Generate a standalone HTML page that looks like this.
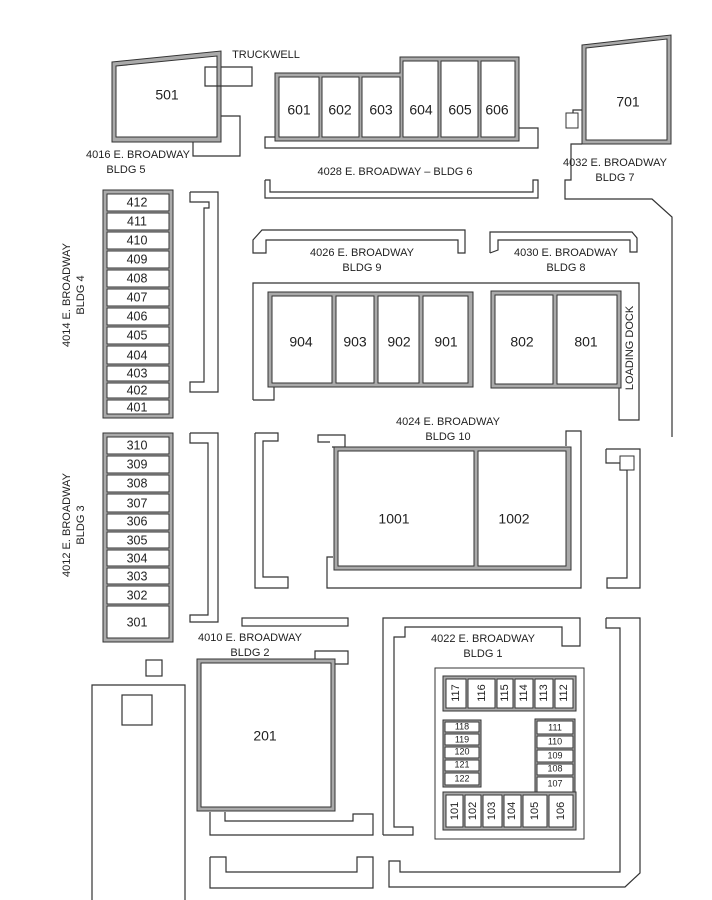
<!DOCTYPE html>
<html><head><meta charset="utf-8"><style>
html,body{margin:0;padding:0;background:#fff}
svg{display:block}
text{font-family:"Liberation Sans",sans-serif;fill:#222}
.l{font-size:11px;text-anchor:middle}
.u{font-size:14px;text-anchor:middle;dominant-baseline:middle}
.s{font-size:12.5px;text-anchor:middle;dominant-baseline:middle}
.t{font-size:9px;text-anchor:middle;dominant-baseline:middle}
.g{fill:#aaa;stroke:#333;stroke-width:1}
.w{fill:#fff;stroke:#333;stroke-width:1}
.o{fill:none;stroke:#333;stroke-width:1.2}
</style></head><body>
<svg width="712" height="900" viewBox="0 0 712 900" xmlns="http://www.w3.org/2000/svg">
<!-- BLDG 5 -->
<polygon class="g" points="112,62 221,51 221,142 112,142"/>
<polygon class="w" points="116,66 217,56 217,137 116,137"/>
<text class="u" x="167" y="96">501</text>
<polyline class="o" points="221,67 252,67 252,86 205,86 205,67 217,67"/>
<polyline class="o" points="221,116 240,116 240,156 193,156 193,142"/>
<text class="l" x="138" y="158">4016  E. BROADWAY</text>
<text class="l" x="126" y="173">BLDG 5</text>
<text class="l" x="266" y="58">TRUCKWELL</text>
<!-- BLDG 6 -->
<polygon class="g" points="275,73 400,73 400,57 519,57 519,141 275,141"/>
<rect class="w" x="279" y="77" width="40" height="60"/>
<rect class="w" x="322" y="77" width="37" height="60"/>
<rect class="w" x="362" y="77" width="38" height="60"/>
<rect class="w" x="403" y="61" width="35" height="76"/>
<rect class="w" x="441" y="61" width="37" height="76"/>
<rect class="w" x="481" y="61" width="34" height="76"/>
<text class="u" x="299" y="111">601</text><text class="u" x="340" y="111">602</text><text class="u" x="381" y="111">603</text>
<text class="u" x="421" y="111">604</text><text class="u" x="460" y="111">605</text><text class="u" x="497" y="111">606</text>
<polyline class="o" points="275,137 265,137 265,148 538,148 538,128 519,128"/>
<polyline class="o" points="265,180 270,180 270,192 533,192 533,180 538,180 538,198 265,198 265,180"/>
<text class="l" x="395" y="175">4028 E. BROADWAY – BLDG 6</text>
<!-- BLDG 7 -->
<polygon class="g" points="582,45 671,35 671,144 582,144"/>
<polygon class="w" points="586,48 667,39 667,140 586,140"/>
<text class="u" x="628" y="103">701</text>
<rect class="w" x="566" y="113" width="12" height="15"/>
<polyline class="o" points="582,110 573,110 573,113"/>
<polyline class="o" points="582,144 571,144 571,180 565,180 565,199 652,199 672,217 672,437"/>
<text class="l" x="615" y="166">4032  E. BROADWAY</text>
<text class="l" x="615" y="181">BLDG 7</text>
<!-- BLDG 4 -->
<rect class="g" x="103" y="190" width="70" height="228"/>
<rect class="w" x="107" y="194" width="62" height="17"/>
<rect class="w" x="107" y="213" width="62" height="17"/>
<rect class="w" x="107" y="232" width="62" height="17"/>
<rect class="w" x="107" y="251" width="62" height="17"/>
<rect class="w" x="107" y="270" width="62" height="17"/>
<rect class="w" x="107" y="289" width="62" height="17"/>
<rect class="w" x="107" y="308" width="62" height="17"/>
<rect class="w" x="107" y="327" width="62" height="17"/>
<rect class="w" x="107" y="346" width="62" height="18"/>
<rect class="w" x="107" y="366" width="62" height="15"/>
<rect class="w" x="107" y="383" width="62" height="15"/>
<rect class="w" x="107" y="400" width="62" height="14"/>
<text class="s" x="137" y="203">412</text><text class="s" x="137" y="222">411</text><text class="s" x="137" y="241">410</text>
<text class="s" x="137" y="260">409</text><text class="s" x="137" y="279">408</text><text class="s" x="137" y="298">407</text>
<text class="s" x="137" y="317">406</text><text class="s" x="137" y="336">405</text><text class="s" x="137" y="356">404</text>
<text class="s" x="137" y="374">403</text><text class="s" x="137" y="391">402</text><text class="s" x="137" y="408">401</text>
<text class="l" transform="translate(70,295) rotate(-90)">4014  E. BROADWAY</text>
<text class="l" transform="translate(84,295) rotate(-90)">BLDG 4</text>
<polyline class="o" points="190,192 218,192 218,392 190,392 190,382 204,382 204,208 209,208 209,202 190,202 190,192"/>
<!-- BLDG 3 -->
<rect class="g" x="103" y="433" width="70" height="209"/>
<rect class="w" x="107" y="437" width="62" height="17"/>
<rect class="w" x="107" y="456" width="62" height="17"/>
<rect class="w" x="107" y="475" width="62" height="17"/>
<rect class="w" x="107" y="494" width="62" height="18"/>
<rect class="w" x="107" y="514" width="62" height="16"/>
<rect class="w" x="107" y="532" width="62" height="16"/>
<rect class="w" x="107" y="550" width="62" height="16"/>
<rect class="w" x="107" y="568" width="62" height="16"/>
<rect class="w" x="107" y="586" width="62" height="18"/>
<rect class="w" x="107" y="606" width="62" height="32"/>
<text class="s" x="137" y="446">310</text><text class="s" x="137" y="465">309</text><text class="s" x="137" y="484">308</text>
<text class="s" x="137" y="504">307</text><text class="s" x="137" y="522">306</text><text class="s" x="137" y="541">305</text>
<text class="s" x="137" y="559">304</text><text class="s" x="137" y="577">303</text><text class="s" x="137" y="596">302</text>
<text class="s" x="137" y="623">301</text>
<text class="l" transform="translate(70,525) rotate(-90)">4012  E. BROADWAY</text>
<text class="l" transform="translate(84,525) rotate(-90)">BLDG 3</text>
<polyline class="o" points="190,433 218,433 218,622 190,622 190,615 208,615 208,443 190,443 190,433"/>
<!-- BLDG 9 / 8 -->
<polyline class="o" points="253,247 253,240 262,230 465,230 465,253 458,253 458,240 266,240 266,253 253,253 253,247"/>
<text class="l" x="362" y="256">4026  E. BROADWAY</text>
<text class="l" x="362" y="271">BLDG 9</text>
<polyline class="o" points="490,253 490,232 632,232 637,238 637,252 630,252 630,240 498,240 498,250 490,253"/>
<text class="l" x="566" y="256">4030  E. BROADWAY</text>
<text class="l" x="566" y="271">BLDG 8</text>
<polyline class="o" points="253,400 253,283 639,283 639,420 619,420 619,387"/>
<polyline class="o" points="253,400 274,400 274,387"/>
<rect class="g" x="268" y="292" width="205" height="95"/>
<rect class="w" x="272" y="296" width="60" height="87"/>
<rect class="w" x="336" y="296" width="38" height="87"/>
<rect class="w" x="378" y="296" width="41" height="87"/>
<rect class="w" x="423" y="296" width="45" height="87"/>
<text class="u" x="301" y="343">904</text><text class="u" x="355" y="343">903</text><text class="u" x="399" y="343">902</text><text class="u" x="446" y="343">901</text>
<rect class="g" x="491" y="291" width="130" height="97"/>
<rect class="w" x="495" y="295" width="58" height="89"/>
<rect class="w" x="557" y="295" width="60" height="89"/>
<text class="u" x="522" y="343">802</text><text class="u" x="586" y="343">801</text>
<text class="l" transform="translate(633,348) rotate(-90)">LOADING DOCK</text>
<!-- BLDG 10 -->
<text class="l" x="448" y="425">4024  E. BROADWAY</text>
<text class="l" x="448" y="440">BLDG 10</text>
<polyline class="o" points="255,433 278,433 278,441 263,441 263,577 288,577 288,588 255,588 255,433"/>
<polyline class="o" points="332,447 345,447 345,435 318,435 318,442 330,442"/>
<polyline class="o" points="566,446 566,431 581,431 581,588 327,588 327,557 333,557"/>
<rect class="g" x="334" y="447" width="237" height="123"/>
<rect class="w" x="338" y="451" width="136" height="115"/>
<rect class="w" x="478" y="451" width="88" height="115"/>
<text class="u" x="394" y="520">1001</text><text class="u" x="514" y="520">1002</text>
<polyline class="o" points="606,449 640,449 640,588 607,588 607,578 627,578 627,470 620,470 620,463 606,463 606,449"/>
<rect class="w" x="620" y="456" width="14" height="14"/>
<!-- BLDG 2 -->
<rect class="o" x="242" y="618" width="106" height="8"/>
<text class="l" x="250" y="641">4010  E. BROADWAY</text>
<text class="l" x="250" y="656">BLDG 2</text>
<polyline class="o" points="315,661 315,651 348,651 348,664 334,664"/>
<rect class="g" x="197" y="659" width="138" height="152"/>
<rect class="w" x="201" y="663" width="130" height="144"/>
<text class="u" x="265" y="737">201</text>
<polyline class="o" points="210,812 210,835 373,835 373,814 353,814 353,821 225,821 225,812"/>
<polyline class="o" points="210,857 226,857 226,872 357,872 357,857 373,857 373,888 210,888 210,857"/>
<rect class="o" x="146" y="660" width="16" height="16"/>
<polyline class="o" points="92,900 92,685 185,685 185,900"/>
<rect class="o" x="122" y="695" width="30" height="30"/>
<!-- BLDG 1 -->
<polyline class="o" points="383,835 383,618 580,618 580,646 562,646 562,627 405,627 405,637 394,637 394,827 413,827 413,835 383,835"/>
<polyline class="o" points="606,618 640,618 640,873 625,887 389,887 389,861 400,861 400,872 620,872 620,628 606,628 606,618"/>
<text class="l" x="483" y="642">4022  E. BROADWAY</text>
<text class="l" x="483" y="657">BLDG 1</text>
<rect class="w" x="435" y="668" width="149" height="171"/>
<rect class="g" x="443" y="676" width="133" height="35"/>
<rect class="w" x="446" y="679" width="20" height="29"/><rect class="w" x="468" y="679" width="27" height="29"/>
<rect class="w" x="497" y="679" width="16" height="29"/><rect class="w" x="515" y="679" width="18" height="29"/>
<rect class="w" x="535" y="679" width="18" height="29"/><rect class="w" x="555" y="679" width="18" height="29"/>
<text class="t" style="font-size:11px" transform="translate(456,693) rotate(-90)">117</text>
<text class="t" style="font-size:11px" transform="translate(482,693) rotate(-90)">116</text>
<text class="t" style="font-size:11px" transform="translate(505,693) rotate(-90)">115</text>
<text class="t" style="font-size:11px" transform="translate(524,693) rotate(-90)">114</text>
<text class="t" style="font-size:11px" transform="translate(544,693) rotate(-90)">113</text>
<text class="t" style="font-size:11px" transform="translate(564,693) rotate(-90)">112</text>
<rect class="g" x="443" y="720" width="38" height="67"/>
<rect class="w" x="445" y="722" width="34" height="10"/><rect class="w" x="445" y="734" width="34" height="11"/>
<rect class="w" x="445" y="747" width="34" height="11"/><rect class="w" x="445" y="760" width="34" height="11"/>
<rect class="w" x="445" y="773" width="34" height="12"/>
<text class="t" x="462" y="727">118</text><text class="t" x="462" y="740">119</text><text class="t" x="462" y="752">120</text>
<text class="t" x="462" y="765">121</text><text class="t" x="462" y="779">122</text>
<rect class="g" x="535" y="719" width="40" height="75"/>
<rect class="w" x="537" y="721" width="36" height="13"/><rect class="w" x="537" y="736" width="36" height="12"/>
<rect class="w" x="537" y="750" width="36" height="12"/><rect class="w" x="537" y="764" width="36" height="11"/>
<rect class="w" x="537" y="777" width="36" height="15"/>
<text class="t" x="555" y="728">111</text><text class="t" x="555" y="742">110</text><text class="t" x="555" y="756">109</text>
<text class="t" x="555" y="769">108</text><text class="t" x="555" y="784">107</text>
<rect class="g" x="443" y="792" width="133" height="38"/>
<rect class="w" x="446" y="795" width="17" height="32"/><rect class="w" x="465" y="795" width="16" height="32"/>
<rect class="w" x="483" y="795" width="19" height="32"/><rect class="w" x="504" y="795" width="17" height="32"/>
<rect class="w" x="523" y="795" width="24" height="32"/><rect class="w" x="549" y="795" width="24" height="32"/>
<text class="t" style="font-size:11px" transform="translate(455,811) rotate(-90)">101</text>
<text class="t" style="font-size:11px" transform="translate(473,811) rotate(-90)">102</text>
<text class="t" style="font-size:11px" transform="translate(492,811) rotate(-90)">103</text>
<text class="t" style="font-size:11px" transform="translate(512,811) rotate(-90)">104</text>
<text class="t" style="font-size:11px" transform="translate(535,811) rotate(-90)">105</text>
<text class="t" style="font-size:11px" transform="translate(561,811) rotate(-90)">106</text>
</svg>
</body></html>
